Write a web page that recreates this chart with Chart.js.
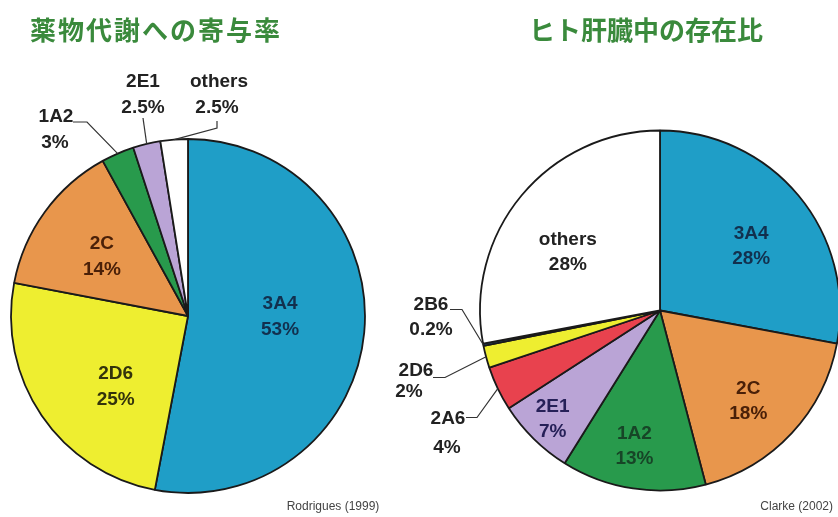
<!DOCTYPE html>
<html><head><meta charset="utf-8">
<script src="https://cdn.jsdelivr.net/npm/chart.js@4/dist/chart.umd.min.js"></script>
<style>
html,body{margin:0;padding:0;background:#fff;width:838px;height:517px;overflow:hidden;}
canvas{position:absolute;left:0;top:0;}
</style></head><body>
<canvas id="c1" width="838" height="517"></canvas>
<canvas id="c2" width="838" height="517"></canvas>
<script>
// ---- data ----
const leftTitle = '薬物代謝への寄与率';
const rightTitle = 'ヒト肝臓中の存在比';
const leftCategories = ['3A4', '2D6', '2C', '1A2', '2E1', 'others'];
const leftValues = [53, 25, 14, 3, 2.5, 2.5];
const leftPercentLabels = ['53%', '25%', '14%', '3%', '2.5%', '2.5%'];
const rightCategories = ['3A4', '2C', '1A2', '2E1', '2A6', '2D6', '2B6', 'others'];
const rightValues = [28, 18, 13, 7, 4, 2, 0.2, 28];
const rightPercentLabels = ['28%', '18%', '13%', '7%', '4%', '2%', '0.2%', '28%'];
const leftSource = 'Rodrigues (1999)';
const rightSource = 'Clarke (2002)';

// ---- styles ----
const sliceColors = {
  '3A4': '#1f9ec7', '2D6': '#eeee30', '2C': '#e8964c', '1A2': '#289a4c',
  '2E1': '#baa4d6', 'others': '#ffffff', '2A6': '#e8424e', '2B6': '#1f4f90'
};
const textColors = {
  '3A4': '#12304e', '2D6': '#33330c', '2C': '#4a2008', '1A2': '#174527',
  '2E1': '#262058', 'others': '#222222', '2A6': '#222222', '2B6': '#222222'
};
const outsideTextColor = '#222222';
const titleColor = '#3a8a3c';

// label layouts (positions relative to pie centre)
const leftLayout = [
  {inside: true, da: -5, rf: 0.52},
  {inside: true, da: -10, rf: 0.57},
  {inside: true, da: -1.5, rf: 0.59},
  {path: [[-101, -194], [-115, -194]], t1: [-132, -199], t2: [-133, -173]},
  {path: [[-45, -198]], t1: [-45, -234], t2: [-45, -208]},
  {path: [[29, -188], [29, -195]], t1: [31, -234], t2: [29, -208]}
];
const rightLayout = [
  {inside: true, da: 4.5, rf: 0.62},
  {inside: true, da: 3, rf: 0.705},
  {inside: true, da: 2, rf: 0.77},
  {inside: true, da: 0, rf: 0.85},
  {path: [[-183, 107], [-194, 107]], t1: [-212, 108], t2: [-213, 137]},
  {path: [[-215, 67], [-227, 67]], t1: [-244, 60], t2: [-251, 81]},
  {path: [[-198, -1], [-210, -1]], t1: [-229, -6], t2: [-229, 19]},
  {inside: true, da: -7.5, rf: 0.605}
];

function labelPlugin(names, pcts, layout, lineGap) {
  return {
    id: 'sliceLabels',
    afterDatasetsDraw(chart) {
      const ctx = chart.ctx;
      const meta = chart.getDatasetMeta(0);
      ctx.save();
      ctx.font = 'bold 19px "Liberation Sans", Arial, sans-serif';
      ctx.textAlign = 'center';
      ctx.textBaseline = 'middle';
      meta.data.forEach((arc, i) => {
        const p = arc.getProps(['x', 'y', 'startAngle', 'endAngle', 'outerRadius'], true);
        const L = layout[i];
        const mid = (p.startAngle + p.endAngle) / 2;
        if (L.inside) {
          ctx.fillStyle = textColors[names[i]];
          const a = mid + L.da * Math.PI / 180;
          const r = L.rf * p.outerRadius;
          const cx = p.x + r * Math.cos(a), cy = p.y + r * Math.sin(a);
          ctx.fillText(names[i], cx, cy - lineGap / 2);
          ctx.fillText(pcts[i], cx, cy + lineGap / 2);
        } else {
          ctx.fillStyle = outsideTextColor;
          const ex = p.x + p.outerRadius * Math.cos(mid);
          const ey = p.y + p.outerRadius * Math.sin(mid);
          ctx.beginPath();
          ctx.moveTo(ex, ey);
          L.path.forEach(pt => ctx.lineTo(p.x + pt[0], p.y + pt[1]));
          ctx.strokeStyle = '#333';
          ctx.lineWidth = 1.2;
          ctx.stroke();
          ctx.fillText(names[i], p.x + L.t1[0], p.y + L.t1[1]);
          ctx.fillText(pcts[i], p.x + L.t2[0], p.y + L.t2[1]);
        }
      });
      ctx.restore();
    }
  };
}

function textPlugin(title, titleX, spacing, source, sourceX, align) {
  return {
    id: 'texts',
    afterDraw(chart) {
      const ctx = chart.ctx;
      ctx.save();
      ctx.font = 'bold 26px "Noto Sans CJK JP", sans-serif';
      ctx.fillStyle = titleColor;
      ctx.textAlign = 'center';
      ctx.textBaseline = 'middle';
      try { ctx.letterSpacing = spacing + 'px'; } catch (e) {}
      ctx.fillText(title, titleX, 30);
      try { ctx.letterSpacing = '0px'; } catch (e) {}
      ctx.font = '12px "Liberation Sans", Arial, sans-serif';
      ctx.fillStyle = '#444';
      ctx.textAlign = align;
      ctx.fillText(source, sourceX, 507);
      ctx.restore();
    }
  };
}

function makePie(id, cats, vals, radius, padding, plugins) {
  return new Chart(document.getElementById(id), {
    type: 'pie',
    data: {
      labels: cats,
      datasets: [{
        data: vals,
        backgroundColor: cats.map(c => sliceColors[c]),
        borderColor: '#1a1a1a',
        borderWidth: 1.8,
        radius: radius,
        clip: false
      }]
    },
    options: {
      responsive: false,
      devicePixelRatio: 1,
      animation: false,
      layout: {padding: padding},
      plugins: {legend: {display: false}, tooltip: {enabled: false}, title: {display: false}}
    },
    plugins: plugins
  });
}

makePie('c1', leftCategories, leftValues, 177,
  {left: 8, right: 470, top: 138, bottom: 23},
  [labelPlugin(leftCategories, leftPercentLabels, leftLayout, 26),
   textPlugin(leftTitle, 156, 2, leftSource, 333, 'center')]);

makePie('c2', rightCategories, rightValues, 180,
  {left: 482, right: 0, top: 133, bottom: 29},
  [labelPlugin(rightCategories, rightPercentLabels, rightLayout, 25),
   textPlugin(rightTitle, 646, 0, rightSource, 833, 'right')]);
</script>
</body></html>
